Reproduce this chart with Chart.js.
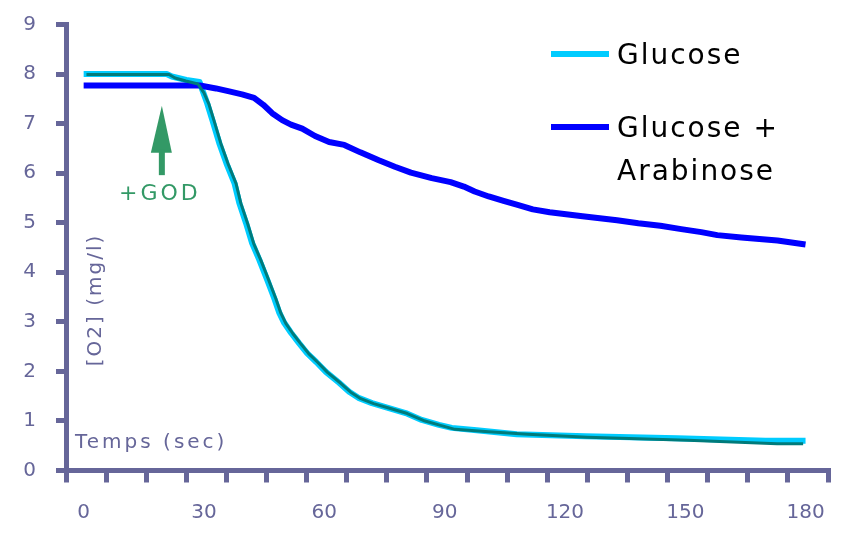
<!DOCTYPE html>
<html>
<head>
<meta charset="utf-8">
<title>[O2] - Glucose / Glucose + Arabinose</title>
<script src="https://cdn.jsdelivr.net/npm/chart.js@4.4.1/dist/chart.umd.min.js"></script>
<style>
  html, body { margin: 0; padding: 0; background: #fff; }
  #wrap { width: 846px; height: 534px; }
</style>
</head>
<body>
<div id="wrap"><canvas id="o2Chart" width="846" height="534"></canvas></div>
<script>
// temps (sec) et [O2] (mg/l)
const glucoseTime = [0, 20.7, 22, 25.6, 28.9, 29.6, 30.8, 32.1, 33.8, 35.6, 37.6, 38.8, 40.5, 42, 43.8,
    45.8, 47.5, 48.8, 50, 51.7, 53.7, 55.7, 58, 60.4, 63.7, 66.2, 68.7, 71.9, 76.1, 80.3,
    84.3, 88.6, 91.8, 98, 108, 125, 148, 170, 180];
const glucoseO2 = [8.00, 8.00, 7.95, 7.88, 7.84, 7.68, 7.41, 7.07, 6.61, 6.20, 5.80, 5.40, 4.99, 4.59, 4.25,
    3.84, 3.48, 3.18, 2.98, 2.78, 2.57, 2.37, 2.19, 1.99, 1.77, 1.59, 1.46, 1.36, 1.26, 1.16,
    1.02, 0.92, 0.86, 0.81, 0.73, 0.69, 0.65, 0.60, 0.60];

// deuxième essai glucose (trait fin, pas dans la légende)
const glucose2Time = [0.7, 21.3, 22.8, 25.5, 28.5, 30, 31.2, 32.5, 34.2, 36, 38, 39.2, 40.9, 42.4, 44.2,
    46.2, 47.9, 49.2, 50.4, 52.1, 54.1, 56.1, 58.4, 60.8, 64.1, 66.6, 69.1, 72.3, 76.5, 80.7,
    84.7, 89, 92.6, 101, 110.7, 125.6, 150.7, 172.9, 179.4];
const glucose2O2 = [7.99, 7.99, 7.92, 7.86, 7.80, 7.62, 7.40, 7.06, 6.60, 6.19, 5.79, 5.39, 4.98, 4.58, 4.24,
    3.83, 3.47, 3.17, 2.97, 2.77, 2.56, 2.36, 2.18, 1.98, 1.76, 1.58, 1.45, 1.35, 1.25, 1.15,
    1.01, 0.91, 0.83, 0.78, 0.73, 0.67, 0.61, 0.54, 0.54];

const arabinoseTime = [0, 29, 33, 36.3, 39.5, 42.5, 44.8, 47, 49.5, 51.7, 54.5, 57.7, 61.2, 65, 69,
    73.6, 77.6, 81.6, 86.8, 91.5, 94.8, 97.5, 101, 104.7, 108.2, 112, 116.2, 124.4, 133, 138.3,
    143.8, 149, 154, 158, 164, 173, 180];
const arabinoseO2 = [7.77, 7.77, 7.71, 7.65, 7.59, 7.52, 7.38, 7.21, 7.07, 6.98, 6.90, 6.75, 6.63, 6.57, 6.42,
    6.26, 6.13, 6.01, 5.90, 5.82, 5.73, 5.63, 5.53, 5.44, 5.36, 5.27, 5.21, 5.13, 5.05, 4.99,
    4.94, 4.87, 4.81, 4.75, 4.70, 4.64, 4.56];

// libellés des axes
const timeLabels = [0, 30, 60, 90, 120, 150, 180];
const o2Labels = [0, 1, 2, 3, 4, 5, 6, 7, 8, 9];

const AXIS_COLOR = '#666699';
const GOD_COLOR = '#339966';
const FONT = '"DejaVu Sans", sans-serif';

// comme dans Excel, les graduations tombent entre les libellés (décalées de 4.4 s)
const SLOT = 4.4;
const xTickMarks = [];
for (let k = 0; k <= 19; k++) xTickMarks.push(-SLOT + 10 * k);

const toPoints = (ts, vs) => ts.map((t, i) => ({ x: t, y: vs[i] }));

// titres d'axe, légende et flèche "+GOD" dessinés à la main
const decorations = {
    id: 'decorations',
    afterDraw(chart) {
        const { ctx, chartArea, scales } = chart;
        ctx.save();

        ctx.fillStyle = AXIS_COLOR;
        ctx.font = '20px ' + FONT;
        ctx.letterSpacing = '3px';
        ctx.textAlign = 'left';
        ctx.textBaseline = 'alphabetic';
        ctx.fillText('Temps (sec)', chartArea.left + 9, chartArea.bottom - 23);

        ctx.save();
        ctx.translate(chartArea.left + 30, 300);
        ctx.rotate(-Math.PI / 2);
        ctx.letterSpacing = '2px';
        ctx.textAlign = 'center';
        ctx.textBaseline = 'middle';
        ctx.fillText('[O2] (mg/l)', 0, 0);
        ctx.restore();

        // légende
        const items = [
            { color: '#00ccff', y: 54, lines: ['Glucose'] },
            { color: '#0000ff', y: 127, lines: ['Glucose +', 'Arabinose'] }
        ];
        ctx.font = '28px ' + FONT;
        ctx.letterSpacing = '2px';
        ctx.fillStyle = '#000';
        items.forEach(it => {
            ctx.strokeStyle = it.color;
            ctx.lineWidth = 6;
            ctx.beginPath();
            ctx.moveTo(551, it.y);
            ctx.lineTo(609, it.y);
            ctx.stroke();
            it.lines.forEach((txt, i) => {
                ctx.fillText(txt, 617, it.y + 10 + i * 43);
            });
        });

        // flèche +GOD (ajout de glucose oxydase)
        const ax = scales.x.getPixelForValue(19.5);
        const tip = scales.y.getPixelForValue(7.36);
        const base = scales.y.getPixelForValue(6.41);
        const foot = scales.y.getPixelForValue(5.96);
        ctx.fillStyle = GOD_COLOR;
        ctx.beginPath();
        ctx.moveTo(ax, tip);
        ctx.lineTo(ax + 10, base);
        ctx.lineTo(ax - 11, base);
        ctx.closePath();
        ctx.fill();
        ctx.fillRect(ax - 3, base - 3, 6, foot - base + 3);

        ctx.font = '22px ' + FONT;
        ctx.letterSpacing = '3px';
        ctx.textAlign = 'center';
        ctx.fillText('+GOD', ax - 2, scales.y.getPixelForValue(5.46));

        ctx.restore();
    }
};

const ctx = document.getElementById('o2Chart').getContext('2d');
const o2Chart = new Chart(ctx, {
    type: 'line',
    data: {
        datasets: [{
            label: 'Glucose',
            data: toPoints(glucoseTime, glucoseO2),
            borderColor: '#00ccff',
            borderWidth: 6,
            order: 2
        }, {
            label: 'Glucose (essai 2)',
            data: toPoints(glucose2Time, glucose2O2),
            borderColor: '#007b7b',
            borderWidth: 3,
            order: 0
        }, {
            label: 'Glucose + Arabinose',
            data: toPoints(arabinoseTime, arabinoseO2),
            borderColor: '#0000ff',
            borderWidth: 6,
            order: 1
        }]
    },
    options: {
        responsive: false,
        animation: false,
        elements: {
            point: { radius: 0 },
            line: { tension: 0, borderJoinStyle: 'round', fill: false }
        },
        layout: { padding: { top: 24.5, right: 15, bottom: 9.5, left: 0 } },
        plugins: {
            legend: { display: false },
            tooltip: { enabled: false }
        },
        scales: {
            x: {
                type: 'linear',
                min: -SLOT,
                max: 190 - SLOT,
                afterBuildTicks: axis => {
                    axis.ticks = xTickMarks.map(v => ({ value: v }));
                },
                afterFit: scale => { scale.height = 54; },
                ticks: {
                    autoSkip: false,
                    maxRotation: 0,
                    labelOffset: 17.7,
                    padding: 18,
                    color: AXIS_COLOR,
                    font: { family: FONT, size: 20 },
                    callback: value => {
                        const t = Math.round(value + SLOT);
                        return timeLabels.includes(t) ? String(t) : '';
                    }
                },
                grid: {
                    drawOnChartArea: false,
                    tickLength: 12,
                    tickWidth: 5,
                    lineWidth: 5,
                    color: AXIS_COLOR,
                    tickColor: AXIS_COLOR
                },
                border: { display: true, color: AXIS_COLOR, width: 5 }
            },
            y: {
                min: 0,
                max: 9,
                afterFit: scale => {
                    scale.width = 66;
                    // pas de marge automatique au-dessus du "9"
                    scale.paddingTop = 0;
                    scale.paddingBottom = 0;
                },
                ticks: {
                    stepSize: 1,
                    padding: 20,
                    color: AXIS_COLOR,
                    font: { family: FONT, size: 20 },
                    callback: value => o2Labels.includes(value) ? String(value) : ''
                },
                grid: {
                    drawOnChartArea: false,
                    tickLength: 10,
                    tickWidth: 5,
                    lineWidth: 5,
                    color: AXIS_COLOR,
                    tickColor: AXIS_COLOR
                },
                border: { display: true, color: AXIS_COLOR, width: 5 }
            }
        }
    },
    plugins: [decorations]
});
</script>
</body>
</html>
